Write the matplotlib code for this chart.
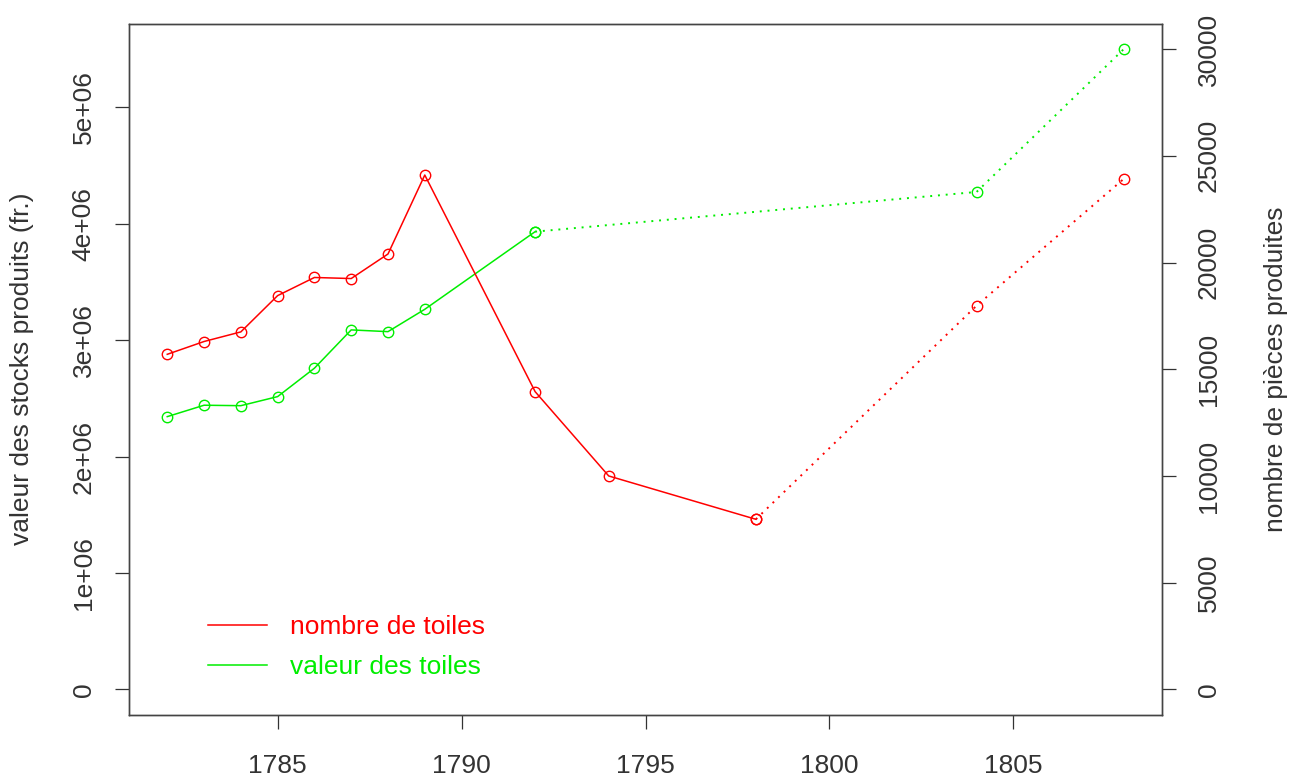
import numpy as np
import matplotlib
matplotlib.use('Agg')
import matplotlib.pyplot as plt
from matplotlib.lines import Line2D

plt.rcParams['font.family'] = ['Liberation Sans', 'DejaVu Sans']

# Data
annees = [1782, 1783, 1784, 1785, 1786, 1787, 1788, 1789, 1792, 1794, 1798, 1804, 1808]
nombre_toiles = [15700, 16300, 16750, 18450, 19300, 19250, 20400, 24100, 13950, 10000, 7970, 17980, 23920]

annees_val = [1782, 1783, 1784, 1785, 1786, 1787, 1788, 1789, 1792, 1804, 1808]
valeur_toiles = [2.343e6, 2.441e6, 2.437e6, 2.515e6, 2.759e6, 3.088e6, 3.073e6, 3.265e6, 3.932e6, 4.273e6, 5.5e6]

# last index of the continuous series (after it the line is dotted)
fin_nombre = 10   # 1798
fin_valeur = 8    # 1792

left_ticks = [0, 1e6, 2e6, 3e6, 4e6, 5e6]
left_labels = ['0', '1e+06', '2e+06', '3e+06', '4e+06', '5e+06']
right_ticks = [0, 5000, 10000, 15000, 20000, 25000, 30000]
x_ticks = [1785, 1790, 1795, 1800, 1805]

ROUGE = '#ff0000'
VERT = '#00ee00'
TXT = '#333333'
FS = 19

fig = plt.figure(figsize=(12.95, 7.78), dpi=100)
ax = fig.add_axes([129 / 1295, 63 / 778, 1033 / 1295, 691.5 / 778])
ax2 = ax.twinx()

# valeur (left axis)
ax.plot(annees_val[:fin_valeur + 1], valeur_toiles[:fin_valeur + 1], color=VERT, lw=1.1,
        marker='o', mfc='none', ms=7.5, mew=1.0)
ax.plot(annees_val[fin_valeur:], valeur_toiles[fin_valeur:], color=VERT, lw=1.4, ls=(0, (1, 3)),
        marker='o', mfc='none', ms=7.5, mew=1.0)

# nombre (right axis)
ax2.plot(annees[:fin_nombre + 1], nombre_toiles[:fin_nombre + 1], color=ROUGE, lw=1.1,
         marker='o', mfc='none', ms=7.5, mew=1.0)
ax2.plot(annees[fin_nombre:], nombre_toiles[fin_nombre:], color=ROUGE, lw=1.4, ls=(0, (1, 3)),
         marker='o', mfc='none', ms=7.5, mew=1.0)

# R-style 4% padding
span = annees[-1] - annees[0]
ax.set_xlim(annees[0] - 0.04 * span, annees[-1] + 0.04 * span)
vmax = max(valeur_toiles)
ax.set_ylim(-0.04 * vmax, 1.04 * vmax)
ax2.set_ylim(-0.04 * 30000, 1.04 * 30000)

ax.set_xticks(x_ticks)
ax.set_xticklabels([str(t) for t in x_ticks], fontsize=FS)
ax.set_yticks(left_ticks)
ax.set_yticklabels(left_labels, fontsize=FS, rotation=90, va='center')
ax2.set_yticks(right_ticks)
ax2.set_yticklabels([str(t) for t in right_ticks], fontsize=FS, rotation=90, va='center')

ax.tick_params(axis='x', length=10, width=0.9, pad=18, colors=TXT)
ax.tick_params(axis='y', length=10, width=0.9, pad=14, colors=TXT)
ax2.tick_params(axis='y', length=10, width=0.9, pad=15, colors=TXT)

for a in (ax, ax2):
    for s in a.spines.values():
        s.set_color('#444444')
        s.set_linewidth(1.0)

fig.text(22 / 1295, 1 - 369 / 778, 'valeur des stocks produits (fr.)', rotation=90,
         ha='center', va='center', fontsize=FS, color=TXT)
fig.text(1276 / 1295, 1 - 369 / 778, 'nombre de pièces produites', rotation=90,
         ha='center', va='center', fontsize=FS, color=TXT)

handles = [Line2D([], [], color=ROUGE, lw=1.1), Line2D([], [], color=VERT, lw=1.1)]
leg = ax2.legend(handles, ['nombre de toiles', 'valeur des toiles'], loc='center left',
                 bbox_to_anchor=((208 - 129) / 1033, (715 - 647) / 691.5),
                 frameon=False, fontsize=FS, handlelength=2.25, handletextpad=0.85,
                 borderpad=0, borderaxespad=0, labelspacing=0.6)
for txt, c in zip(leg.get_texts(), [ROUGE, VERT]):
    txt.set_color(c)

fig.savefig('out.png', dpi=100)
